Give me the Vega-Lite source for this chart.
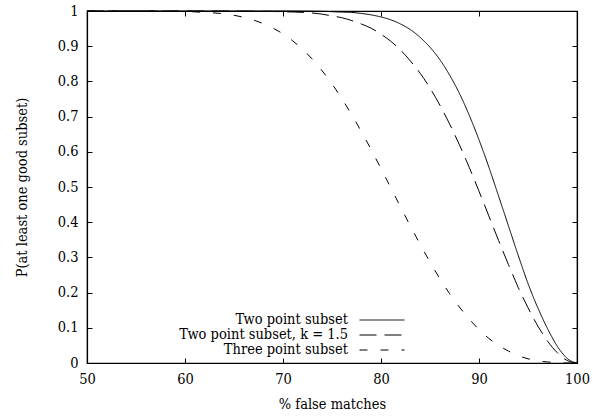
{
  "$schema": "https://vega.github.io/schema/vega-lite/v6.json",
  "width": 490,
  "height": 352,
  "autosize": {"type": "none"},
  "padding": {"left": 87, "top": 11, "right": 16, "bottom": 53},
  "background": "white",
  "config": {
    "font": "DejaVu Serif Condensed, DejaVu Serif",
    "view": {"stroke": "black", "strokeWidth": 1.2},
    "axis": {
      "grid": false,
      "domainColor": "black",
      "domainWidth": 1.2,
      "tickColor": "black",
      "tickWidth": 1,
      "tickSize": -5,
      "labelColor": "black",
      "titleColor": "black",
      "labelFont": "DejaVu Serif Condensed, DejaVu Serif",
      "titleFont": "DejaVu Serif Condensed, DejaVu Serif",
      "labelFontSize": 14.5,
      "titleFontSize": 14.5,
      "titleFontWeight": "normal",
      "labelPadding": 14,
      "labelFlush": false
    },
    "legend": {
      "labelFont": "DejaVu Serif Condensed, DejaVu Serif",
      "labelFontSize": 14.5,
      "labelColor": "black",
      "labelLimit": 400
    }
  },
  "data": {
    "values": [
      {"f": 50, "p": 1, "s": "Two point subset"},
      {"f": 55, "p": 1, "s": "Two point subset"},
      {"f": 60, "p": 1, "s": "Two point subset"},
      {"f": 65, "p": 1, "s": "Two point subset"},
      {"f": 70, "p": 1, "s": "Two point subset"},
      {"f": 72, "p": 0.9997, "s": "Two point subset"},
      {"f": 74, "p": 0.999, "s": "Two point subset"},
      {"f": 76, "p": 0.997, "s": "Two point subset"},
      {"f": 77, "p": 0.996, "s": "Two point subset"},
      {"f": 78, "p": 0.993, "s": "Two point subset"},
      {"f": 79, "p": 0.989, "s": "Two point subset"},
      {"f": 80, "p": 0.983, "s": "Two point subset"},
      {"f": 81, "p": 0.975, "s": "Two point subset"},
      {"f": 82, "p": 0.963, "s": "Two point subset"},
      {"f": 83, "p": 0.947, "s": "Two point subset"},
      {"f": 84, "p": 0.925, "s": "Two point subset"},
      {"f": 85, "p": 0.897, "s": "Two point subset"},
      {"f": 86, "p": 0.862, "s": "Two point subset"},
      {"f": 87, "p": 0.818, "s": "Two point subset"},
      {"f": 88, "p": 0.766, "s": "Two point subset"},
      {"f": 89, "p": 0.704, "s": "Two point subset"},
      {"f": 90, "p": 0.634, "s": "Two point subset"},
      {"f": 91, "p": 0.557, "s": "Two point subset"},
      {"f": 92, "p": 0.474, "s": "Two point subset"},
      {"f": 93, "p": 0.39, "s": "Two point subset"},
      {"f": 94, "p": 0.306, "s": "Two point subset"},
      {"f": 95, "p": 0.226, "s": "Two point subset"},
      {"f": 95.5, "p": 0.19, "s": "Two point subset"},
      {"f": 96, "p": 0.157, "s": "Two point subset"},
      {"f": 96.5, "p": 0.126, "s": "Two point subset"},
      {"f": 97, "p": 0.097, "s": "Two point subset"},
      {"f": 97.5, "p": 0.071, "s": "Two point subset"},
      {"f": 98, "p": 0.047, "s": "Two point subset"},
      {"f": 98.5, "p": 0.028, "s": "Two point subset"},
      {"f": 99, "p": 0.013, "s": "Two point subset"},
      {"f": 99.5, "p": 0.004, "s": "Two point subset"},
      {"f": 100, "p": 0, "s": "Two point subset"},

      {"f": 50, "p": 1, "s": "Two point subset, k = 1.5"},
      {"f": 55, "p": 1, "s": "Two point subset, k = 1.5"},
      {"f": 60, "p": 1, "s": "Two point subset, k = 1.5"},
      {"f": 65, "p": 0.9997, "s": "Two point subset, k = 1.5"},
      {"f": 68, "p": 0.999, "s": "Two point subset, k = 1.5"},
      {"f": 70, "p": 0.998, "s": "Two point subset, k = 1.5"},
      {"f": 72, "p": 0.996, "s": "Two point subset, k = 1.5"},
      {"f": 74, "p": 0.991, "s": "Two point subset, k = 1.5"},
      {"f": 75, "p": 0.986, "s": "Two point subset, k = 1.5"},
      {"f": 76, "p": 0.981, "s": "Two point subset, k = 1.5"},
      {"f": 77, "p": 0.973, "s": "Two point subset, k = 1.5"},
      {"f": 78, "p": 0.963, "s": "Two point subset, k = 1.5"},
      {"f": 79, "p": 0.951, "s": "Two point subset, k = 1.5"},
      {"f": 80, "p": 0.934, "s": "Two point subset, k = 1.5"},
      {"f": 81, "p": 0.914, "s": "Two point subset, k = 1.5"},
      {"f": 82, "p": 0.889, "s": "Two point subset, k = 1.5"},
      {"f": 83, "p": 0.858, "s": "Two point subset, k = 1.5"},
      {"f": 84, "p": 0.823, "s": "Two point subset, k = 1.5"},
      {"f": 85, "p": 0.781, "s": "Two point subset, k = 1.5"},
      {"f": 86, "p": 0.733, "s": "Two point subset, k = 1.5"},
      {"f": 87, "p": 0.679, "s": "Two point subset, k = 1.5"},
      {"f": 88, "p": 0.62, "s": "Two point subset, k = 1.5"},
      {"f": 89, "p": 0.556, "s": "Two point subset, k = 1.5"},
      {"f": 90, "p": 0.488, "s": "Two point subset, k = 1.5"},
      {"f": 91, "p": 0.418, "s": "Two point subset, k = 1.5"},
      {"f": 92, "p": 0.348, "s": "Two point subset, k = 1.5"},
      {"f": 93, "p": 0.28, "s": "Two point subset, k = 1.5"},
      {"f": 94, "p": 0.215, "s": "Two point subset, k = 1.5"},
      {"f": 95, "p": 0.157, "s": "Two point subset, k = 1.5"},
      {"f": 95.5, "p": 0.13, "s": "Two point subset, k = 1.5"},
      {"f": 96, "p": 0.105, "s": "Two point subset, k = 1.5"},
      {"f": 96.5, "p": 0.083, "s": "Two point subset, k = 1.5"},
      {"f": 97, "p": 0.062, "s": "Two point subset, k = 1.5"},
      {"f": 97.5, "p": 0.044, "s": "Two point subset, k = 1.5"},
      {"f": 98, "p": 0.029, "s": "Two point subset, k = 1.5"},
      {"f": 98.5, "p": 0.016, "s": "Two point subset, k = 1.5"},
      {"f": 99, "p": 0.007, "s": "Two point subset, k = 1.5"},
      {"f": 99.5, "p": 0.002, "s": "Two point subset, k = 1.5"},
      {"f": 100, "p": 0, "s": "Two point subset, k = 1.5"},

      {"f": 50, "p": 1, "s": "Three point subset"},
      {"f": 55, "p": 1, "s": "Three point subset"},
      {"f": 58, "p": 0.9995, "s": "Three point subset"},
      {"f": 60, "p": 0.9987, "s": "Three point subset"},
      {"f": 62, "p": 0.996, "s": "Three point subset"},
      {"f": 64, "p": 0.992, "s": "Three point subset"},
      {"f": 66, "p": 0.982, "s": "Three point subset"},
      {"f": 68, "p": 0.964, "s": "Three point subset"},
      {"f": 70, "p": 0.935, "s": "Three point subset"},
      {"f": 71, "p": 0.915, "s": "Three point subset"},
      {"f": 72, "p": 0.891, "s": "Three point subset"},
      {"f": 73, "p": 0.863, "s": "Three point subset"},
      {"f": 74, "p": 0.83, "s": "Three point subset"},
      {"f": 75, "p": 0.793, "s": "Three point subset"},
      {"f": 76, "p": 0.751, "s": "Three point subset"},
      {"f": 77, "p": 0.706, "s": "Three point subset"},
      {"f": 78, "p": 0.657, "s": "Three point subset"},
      {"f": 79, "p": 0.606, "s": "Three point subset"},
      {"f": 80, "p": 0.552, "s": "Three point subset"},
      {"f": 81, "p": 0.498, "s": "Three point subset"},
      {"f": 82, "p": 0.443, "s": "Three point subset"},
      {"f": 83, "p": 0.389, "s": "Three point subset"},
      {"f": 84, "p": 0.337, "s": "Three point subset"},
      {"f": 85, "p": 0.287, "s": "Three point subset"},
      {"f": 86, "p": 0.24, "s": "Three point subset"},
      {"f": 87, "p": 0.197, "s": "Three point subset"},
      {"f": 88, "p": 0.159, "s": "Three point subset"},
      {"f": 89, "p": 0.125, "s": "Three point subset"},
      {"f": 90, "p": 0.095, "s": "Three point subset"},
      {"f": 91, "p": 0.07, "s": "Three point subset"},
      {"f": 92, "p": 0.05, "s": "Three point subset"},
      {"f": 93, "p": 0.034, "s": "Three point subset"},
      {"f": 94, "p": 0.021, "s": "Three point subset"},
      {"f": 95, "p": 0.012, "s": "Three point subset"},
      {"f": 96, "p": 0.006, "s": "Three point subset"},
      {"f": 97, "p": 0.003, "s": "Three point subset"},
      {"f": 98, "p": 0.001, "s": "Three point subset"},
      {"f": 99, "p": 0, "s": "Three point subset"},
      {"f": 100, "p": 0, "s": "Three point subset"}
    ]
  },
  "layer": [
    {
      "mark": {"type": "line", "interpolate": "monotone", "color": "black", "strokeWidth": 1},
      "encoding": {
        "x": {
          "field": "f", "type": "quantitative",
          "scale": {"domain": [50, 100], "nice": false},
          "axis": {"orient": "bottom", "values": [50, 60, 70, 80, 90, 100], "title": "% false matches", "titlePadding": 12}
        },
        "y": {
          "field": "p", "type": "quantitative",
          "scale": {"domain": [0, 1], "nice": false},
          "axis": {"orient": "left", "values": [0, 0.1, 0.2, 0.3, 0.4, 0.5, 0.6, 0.7, 0.8, 0.9, 1], "format": ".1~f", "title": "P(at least one good subset)", "titlePadding": 28}
        },
        "strokeDash": {
          "field": "s", "type": "nominal",
          "scale": {
            "domain": ["Two point subset", "Two point subset, k = 1.5", "Three point subset"],
            "range": [[1, 0], [17, 8], [8, 13]]
          },
          "legend": {
            "title": null,
            "orient": "none",
            "legendX": 287,
            "legendY": 301,
            "symbolType": "M-3,0H3",
            "symbolSize": 225,
            "symbolStrokeColor": "black",
            "symbolStrokeWidth": 1,
            "labelAlign": "right",
            "labelOffset": -42,
            "rowPadding": 0,
            "padding": 0
          }
        }
      }
    },
    {
      "mark": {"type": "line", "strokeOpacity": 0},
      "encoding": {
        "x": {
          "field": "f", "type": "quantitative",
          "axis": {"orient": "top", "values": [50, 60, 70, 80, 90, 100], "labels": false, "title": null}
        },
        "y": {
          "field": "p", "type": "quantitative",
          "axis": {"orient": "right", "values": [0, 0.1, 0.2, 0.3, 0.4, 0.5, 0.6, 0.7, 0.8, 0.9, 1], "labels": false, "title": null}
        },
        "detail": {"field": "s", "type": "nominal"}
      }
    }
  ],
  "resolve": {"axis": {"x": "independent", "y": "independent"}}
}
